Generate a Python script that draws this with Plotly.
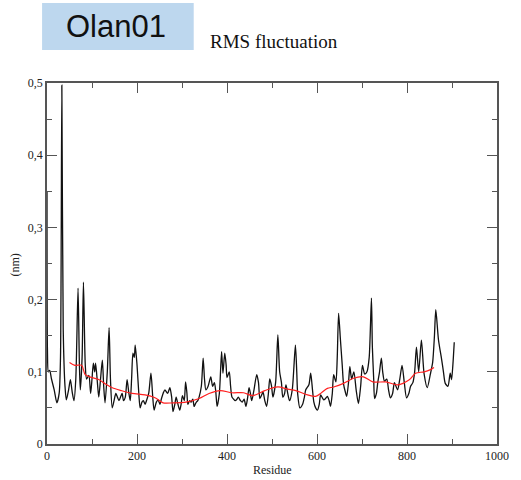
import plotly.graph_objects as go

# Black RMSF trace (residue, nm)
res = [0, 1, 3, 6, 10, 16, 22, 27, 30, 33, 36, 40, 43, 48, 52, 56, 60, 64, 69, 72, 74, 78, 81, 85, 88,
       93, 97, 100, 103, 106, 108, 112, 115, 119, 123, 126, 129, 134, 138, 141, 145, 149, 153, 157, 160,
       164, 167, 170, 174, 178, 182, 185, 188, 191, 194, 196, 200, 204, 207, 211, 214, 218, 221, 226, 231,
       235, 238, 243, 247, 251, 254, 258, 262, 268, 273, 277, 280, 284, 287, 291, 295, 298, 301, 305, 308,
       311, 313, 317, 320, 324, 327, 330, 332, 335, 338, 343, 347, 350, 353, 358, 364, 368, 372, 375, 378,
       383, 388, 391, 395, 398, 400, 405, 408, 411, 415, 418, 422, 425, 430, 434, 438, 442, 446, 449, 452,
       455, 460, 466, 470, 473, 477, 480, 484, 488, 492, 495, 499, 502, 508, 513, 517, 521, 524, 528, 531,
       535, 539, 545, 552, 555, 557, 562, 568, 572, 575, 582, 586, 590, 593, 597, 601, 605, 608, 612, 615,
       619, 623, 627, 630, 634, 637, 642, 645, 648, 652, 656, 659, 663, 666, 670, 673, 677, 682, 687, 692,
       697, 701, 706, 711, 716, 721, 723, 726, 728, 732, 735, 739, 743, 746, 750, 755, 759, 763, 768, 772,
       779, 784, 789, 794, 799, 804, 808, 813, 817, 821, 826, 832, 838, 845, 852, 857, 861, 864, 870, 877,
       881, 885, 891, 896, 899, 902, 905]
rmsf = [0.35, 0.13, 0.10, 0.102, 0.09, 0.075, 0.057, 0.07, 0.12, 0.497, 0.16, 0.08, 0.061, 0.075, 0.089,
        0.072, 0.06, 0.09, 0.216, 0.11, 0.075, 0.12, 0.224, 0.11, 0.09, 0.095, 0.07, 0.09, 0.112, 0.1,
        0.112, 0.085, 0.065, 0.09, 0.116, 0.08, 0.057, 0.1, 0.161, 0.09, 0.05, 0.06, 0.07, 0.064, 0.06,
        0.066, 0.07, 0.06, 0.065, 0.089, 0.07, 0.06, 0.09, 0.126, 0.12, 0.137, 0.11, 0.07, 0.05, 0.058,
        0.06, 0.055, 0.06, 0.07, 0.098, 0.065, 0.047, 0.058, 0.061, 0.055, 0.062, 0.07, 0.075, 0.07,
        0.078, 0.065, 0.045, 0.055, 0.065, 0.055, 0.047, 0.055, 0.067, 0.06, 0.086, 0.07, 0.055, 0.06,
        0.058, 0.062, 0.052, 0.056, 0.058, 0.06, 0.065, 0.08, 0.119, 0.09, 0.075, 0.08, 0.093, 0.08, 0.085,
        0.073, 0.052, 0.07, 0.128, 0.098, 0.126, 0.11, 0.092, 0.1, 0.08, 0.065, 0.062, 0.06, 0.062, 0.065,
        0.06, 0.058, 0.062, 0.052, 0.065, 0.078, 0.07, 0.06, 0.075, 0.096, 0.085, 0.063, 0.068, 0.072,
        0.06, 0.052, 0.07, 0.09, 0.08, 0.065, 0.085, 0.151, 0.1, 0.085, 0.065, 0.07, 0.082, 0.07, 0.06,
        0.075, 0.137, 0.1, 0.07, 0.05, 0.055, 0.065, 0.075, 0.082, 0.098, 0.075, 0.058, 0.05, 0.047, 0.055,
        0.068, 0.064, 0.061, 0.063, 0.066, 0.06, 0.052, 0.07, 0.096, 0.086, 0.12, 0.181, 0.145, 0.11,
        0.083, 0.072, 0.066, 0.085, 0.107, 0.09, 0.1, 0.075, 0.056, 0.08, 0.109, 0.097, 0.1, 0.12, 0.202,
        0.135, 0.09, 0.063, 0.07, 0.085, 0.1, 0.119, 0.1, 0.087, 0.09, 0.075, 0.064, 0.07, 0.085, 0.075,
        0.09, 0.109, 0.085, 0.064, 0.07, 0.08, 0.085, 0.1, 0.134, 0.1, 0.144, 0.097, 0.078, 0.097, 0.113,
        0.15, 0.186, 0.144, 0.117, 0.1, 0.084, 0.08, 0.098, 0.089, 0.11, 0.141]

# Red running average
avg_res = [50, 62, 77, 85, 100, 116, 130, 145, 165, 189, 218, 240, 258, 280, 309, 338, 360, 385, 411,
           437, 457, 484, 513, 535, 553, 579, 597, 610, 623, 637, 659, 681, 703, 724, 753, 779, 805, 819,
           838, 852, 860]
avg_val = [0.113, 0.109, 0.109, 0.096, 0.092, 0.089, 0.083, 0.078, 0.074, 0.070, 0.068, 0.064, 0.057,
           0.057, 0.058, 0.063, 0.070, 0.074, 0.071, 0.071, 0.067, 0.074, 0.079, 0.076, 0.074, 0.068,
           0.066, 0.071, 0.077, 0.079, 0.084, 0.091, 0.093, 0.086, 0.086, 0.082, 0.089, 0.098, 0.100,
           0.103, 0.106]

y_tickvals = [0, 0.1, 0.2, 0.3, 0.4, 0.5]
y_ticktext = ["0", "0,1", "0,2", "0,3", "0,4", "0,5"]
x_tickvals = [0, 200, 400, 600, 800, 1000]
x_ticktext = ["0", "200", "400", "600", "800", "1000"]

serif = "Liberation Serif, Times New Roman, serif"

fig = go.Figure()
fig.add_trace(go.Scatter(x=res, y=rmsf, mode="lines",
                         line=dict(color="#111", width=1.3, shape="spline", smoothing=0.7),
                         showlegend=False))
fig.add_trace(go.Scatter(x=avg_res, y=avg_val, mode="lines",
                         line=dict(color="#ff2020", width=1.2, shape="spline", smoothing=0.8),
                         showlegend=False))

axis_common = dict(showgrid=False, zeroline=False, showline=True, linecolor="#555", linewidth=1.5,
                   mirror="ticks", ticks="inside", ticklen=10, tickwidth=1, tickcolor="#555",
                   tickfont=dict(family=serif, size=12, color="#222"))
fig.update_xaxes(range=[0, 1000], tickvals=x_tickvals, ticktext=x_ticktext,
                 minor=dict(dtick=100, ticks="inside", ticklen=5, tickcolor="#555"), **axis_common)
fig.update_yaxes(range=[0, 0.5], tickvals=y_tickvals, ticktext=y_ticktext,
                 minor=dict(dtick=0.05, ticks="inside", ticklen=5, tickcolor="#555"), **axis_common)

fig.update_layout(
    width=521, height=480,
    margin=dict(l=47, r=17, t=83, b=36),
    paper_bgcolor="white", plot_bgcolor="white",
    shapes=[dict(type="rect", xref="paper", yref="paper",
                 x0=(42 - 47) / 457, x1=(196 - 47) / 457, y0=(444 - 50) / 361, y1=(444 - 3) / 361,
                 fillcolor="#bdd7ee", line=dict(width=0), layer="below")],
    annotations=[
        dict(text="Olan01", xref="paper", yref="paper", x=(117.5 - 47) / 457, y=(444 - 27) / 361,
             xanchor="center", yanchor="middle", showarrow=False,
             font=dict(family="Liberation Sans, Arial, sans-serif", size=31, color="#111")),
        dict(text="RMS fluctuation", xref="paper", yref="paper", x=(211 - 47) / 457, y=(444 - 42) / 361,
             xanchor="left", yanchor="middle", showarrow=False,
             font=dict(family=serif, size=19, color="#111")),
        dict(text="(nm)", xref="paper", yref="paper", x=(15 - 47) / 457, y=(444 - 265) / 361,
             xanchor="center", yanchor="middle", showarrow=False, textangle=-90,
             font=dict(family=serif, size=12, color="#222")),
        dict(text="Residue", xref="paper", yref="paper", x=(276 - 47) / 457, y=(444 - 470) / 361,
             xanchor="center", yanchor="middle", showarrow=False,
             font=dict(family=serif, size=12, color="#222")),
    ],
)

fig.write_html("out.html")
